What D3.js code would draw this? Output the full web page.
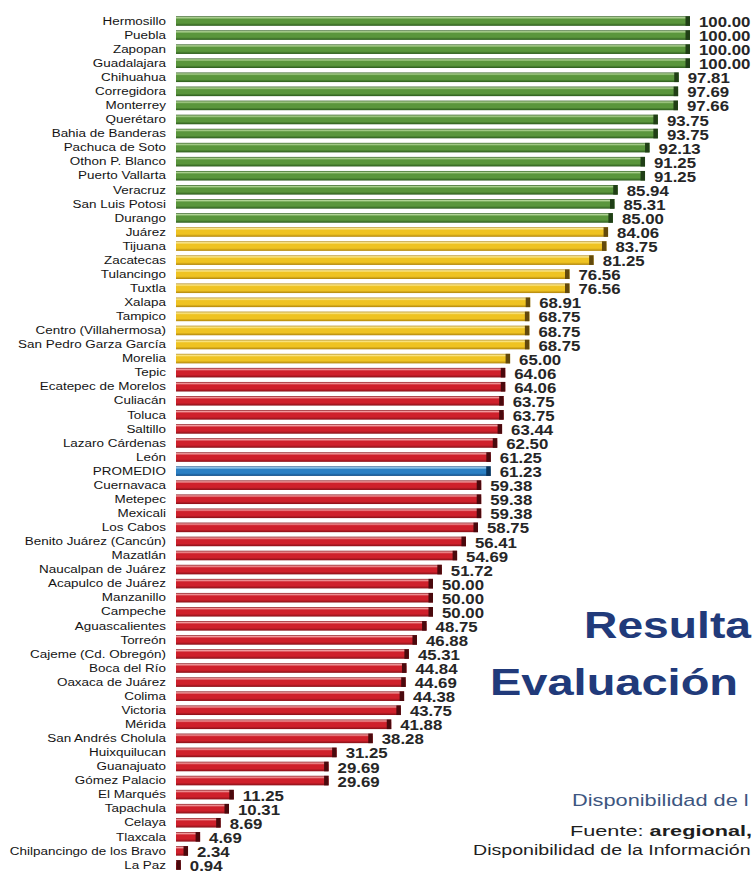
<!DOCTYPE html>
<html>
<head>
<meta charset="utf-8">
<script src="https://cdn.jsdelivr.net/npm/d3@7"></script>
<style>
  body { margin: 0; background: #fff; overflow: hidden; }
  svg { display: block; font-family: "Liberation Sans", Arial, sans-serif; }
</style>
</head>
<body>
<div id="chart"></div>
<script>
const width = 753;
const height = 873;

const ciudades = [
  "Hermosillo", "Puebla", "Zapopan", "Guadalajara", "Chihuahua", "Corregidora",
  "Monterrey", "Querétaro", "Bahia de Banderas", "Pachuca de Soto", "Othon P. Blanco",
  "Puerto Vallarta", "Veracruz", "San Luis Potosi", "Durango", "Juárez", "Tijuana",
  "Zacatecas", "Tulancingo", "Tuxtla", "Xalapa", "Tampico", "Centro (Villahermosa)",
  "San Pedro Garza García", "Morelia", "Tepic", "Ecatepec de Morelos", "Culiacán",
  "Toluca", "Saltillo", "Lazaro Cárdenas", "León", "PROMEDIO", "Cuernavaca", "Metepec",
  "Mexicali", "Los Cabos", "Benito Juárez (Cancún)", "Mazatlán", "Naucalpan de Juárez",
  "Acapulco de Juárez", "Manzanillo", "Campeche", "Aguascalientes", "Torreón",
  "Cajeme (Cd. Obregón)", "Boca del Río", "Oaxaca de Juárez", "Colima", "Victoria",
  "Mérida", "San Andrés Cholula", "Huixquilucan", "Guanajuato", "Gómez Palacio",
  "El Marqués", "Tapachula", "Celaya", "Tlaxcala", "Chilpancingo de los Bravo", "La Paz"
];

const valores = [
  100.00, 100.00, 100.00, 100.00, 97.81, 97.69, 97.66, 93.75, 93.75, 92.13, 91.25,
  91.25, 85.94, 85.31, 85.00, 84.06, 83.75, 81.25, 76.56, 76.56, 68.91, 68.75, 68.75,
  68.75, 65.00, 64.06, 64.06, 63.75, 63.75, 63.44, 62.50, 61.25, 61.23, 59.38, 59.38,
  59.38, 58.75, 56.41, 54.69, 51.72, 50.00, 50.00, 50.00, 48.75, 46.88, 45.31, 44.84,
  44.69, 44.38, 43.75, 41.88, 38.28, 31.25, 29.69, 29.69, 11.25, 10.31, 8.69, 4.69,
  2.34, 0.94
];

// the reference image is cropped on the right, so only the visible part of these texts
const titulo = ["Resulta", "Evaluación"];
const notas = ["Disponibilidad de l", "Fuente: ", "aregional,", "Disponibilidad de la Información"];

// color families: [dark, base, light, cap]
const paleta = {
  verde:    ["#2b5a1c", "#5a963c", "#b2d596", "#203f16"],
  amarillo: ["#b0850c", "#efc322", "#fbea94", "#62490c"],
  rojo:     ["#861018", "#cf202b", "#f29ea0", "#4a090d"],
  azul:     ["#134d86", "#2b80c4", "#9fd0f2", "#0a3258"]
};

function grupo(d) {
  if (d.ciudad === "PROMEDIO") return "azul";
  if (d.valor >= 85) return "verde";
  if (d.valor >= 65) return "amarillo";
  return "rojo";
}

const data = ciudades.map((c, i) => ({ ciudad: c, valor: valores[i] }));

const svg = d3.select('#chart')
  .append('svg')
  .attr('width', width)
  .attr('height', height);

const defs = svg.append('defs');
Object.keys(paleta).forEach(k => {
  const p = paleta[k];
  const g = defs.append('linearGradient')
    .attr('id', 'grad-' + k)
    .attr('x1', 0).attr('y1', 0).attr('x2', 0).attr('y2', 1);
  [[0, p[0]], [0.14, p[2]], [0.32, p[1]], [0.72, p[1]], [1, p[0]]].forEach(s => {
    g.append('stop').attr('offset', s[0]).attr('stop-color', s[1]);
  });
});

const xScale = d3.scaleLinear().domain([0, 100]).range([176, 690]);
const yScale = d3.scaleBand()
  .domain(ciudades)
  .range([14, 872])
  .paddingInner(0.32)
  .paddingOuter(0.16);

// city labels
const yAxis = d3.axisLeft(yScale).tickSize(0).tickPadding(0);
const ejeY = svg.append('g')
  .attr('transform', 'translate(166,0)')
  .call(yAxis);
ejeY.select('.domain').remove();
ejeY.selectAll('text')
  .attr('x', 0)
  .attr('transform', 'scale(1.17,1)')
  .style('font-size', '11.5px')
  .style('font-family', '"Liberation Sans", Arial, sans-serif')
  .attr('fill', '#141414');

const filas = svg.append('g')
  .selectAll('g')
  .data(data)
  .enter()
  .append('g')
  .attr('transform', d => 'translate(0,' + yScale(d.ciudad) + ')');

filas.append('rect')
  .attr('x', xScale(0))
  .attr('y', 0)
  .attr('width', d => xScale(d.valor) - xScale(0))
  .attr('height', yScale.bandwidth())
  .attr('fill', d => 'url(#grad-' + grupo(d) + ')');

// dark end cap
filas.append('rect')
  .attr('x', d => Math.max(xScale(0), xScale(d.valor) - 4.5))
  .attr('y', 0)
  .attr('width', d => Math.min(4.5, Math.max(1.6, xScale(d.valor) - xScale(0))))
  .attr('height', yScale.bandwidth())
  .attr('fill', d => paleta[grupo(d)][3]);

filas.append('text')
  .attr('transform', d => 'translate(' + (xScale(d.valor) + 9) + ',' + (yScale.bandwidth() / 2 + 1) + ') scale(1.2,1)')
  .attr('dy', '0.36em')
  .style('font-size', '14px')
  .style('font-weight', 'bold')
  .attr('fill', '#262626')
  .text(d => d3.format('.2f')(d.valor));

// title block on the right
svg.append('text')
  .attr('transform', 'translate(584,638) scale(1.25,1)')
  .style('font-size', '37px')
  .style('font-weight', 'bold')
  .attr('fill', '#213a7a')
  .text(titulo[0]);

svg.append('text')
  .attr('transform', 'translate(490,695) scale(1.27,1)')
  .style('font-size', '37px')
  .style('font-weight', 'bold')
  .attr('fill', '#213a7a')
  .text(titulo[1]);

svg.append('text')
  .attr('transform', 'translate(572,806) scale(1.32,1)')
  .style('font-size', '16.5px')
  .attr('fill', '#3d5680')
  .text(notas[0]);

const fuente = svg.append('text')
  .attr('transform', 'translate(570,836) scale(1.55,1)')
  .style('font-size', '14px')
  .attr('fill', '#1e1e1e');
fuente.append('tspan').text(notas[1]);
fuente.append('tspan').style('font-weight', 'bold').text(notas[2]);

svg.append('text')
  .attr('transform', 'translate(473,855) scale(1.4,1)')
  .style('font-size', '14px')
  .attr('fill', '#1e1e1e')
  .text(notas[3]);
</script>
</body>
</html>
